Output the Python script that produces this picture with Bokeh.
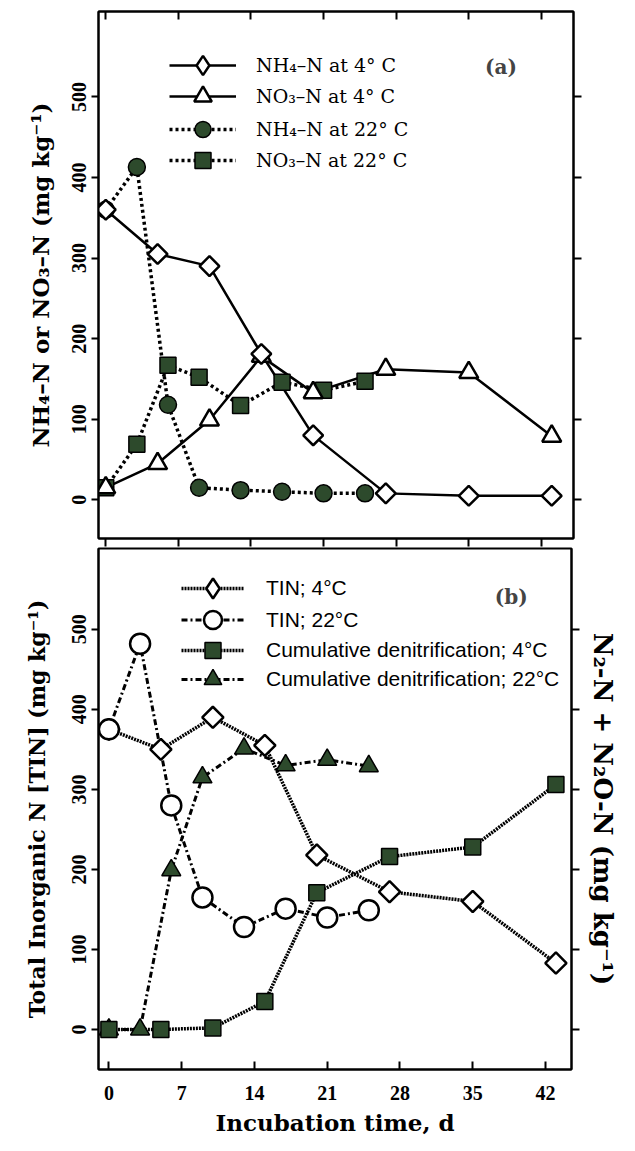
import math
from bokeh.plotting import figure
from bokeh.models import (LinearAxis, FixedTicker, Range1d, Legend, LegendItem,
                          Label, CustomJSTickFormatter)
from bokeh.layouts import column
from bokeh.embed import file_html
from bokeh.resources import INLINE

# ---------------- data ----------------
DAYS_4C = [0, 5, 10, 15, 20, 27, 35, 43]
DAYS_22C = [0, 3, 6, 9, 13, 17, 21, 25]

# panel (a)
NH4_4C = [360, 305, 290, 181, 80, 8, 5, 5]
NO3_4C = [15, 45, 99, 178, 133, 162, 158, 79]
NH4_22C = [360, 413, 118, 15, 12, 10, 8, 8]
NO3_22C = [15, 69, 167, 152, 117, 146, 136, 147]

# panel (b)
TIN_4C = [375, 350, 390, 355, 218, 172, 160, 83]
TIN_22C = [375, 482, 280, 165, 128, 151, 140, 149]
DEN_4C = [0, 0, 2, 35, 171, 216, 228, 306]
DEN_22C = [0, 0, 199, 315, 351, 330, 337, 329]

X_TICKS = [0, 7, 14, 21, 28, 35, 42]
Y_TICKS = [0, 100, 200, 300, 400, 500]

LABELS_A = ["NH\u2084\u2013N at 4\u00b0 C", "NO\u2083\u2013N at 4\u00b0 C",
            "NH\u2084\u2013N at 22\u00b0 C", "NO\u2083\u2013N at 22\u00b0 C"]
LABELS_B = ["TIN; 4\u00b0C", "TIN; 22\u00b0C",
            "Cumulative denitrification; 4\u00b0C",
            "Cumulative denitrification; 22\u00b0C"]

TICK_FONT = "Liberation Serif"
SERIF = "DejaVu Serif"
SANS = "Liberation Sans"
GREEN = "#2d4a2c"
BLANK = CustomJSTickFormatter(code="return ''")


def style_common(p):
    p.xgrid.visible = False
    p.ygrid.visible = False
    p.outline_line_color = "black"
    p.outline_line_width = 2
    p.background_fill_color = "white"
    p.border_fill_color = "white"


def style_axis(ax):
    ax.axis_line_color = "black"
    ax.axis_line_width = 2
    ax.major_tick_line_color = "black"
    ax.major_tick_line_width = 2
    ax.minor_tick_line_color = None
    ax.major_label_text_font = TICK_FONT
    ax.major_label_text_font_style = "bold"
    ax.major_label_text_color = "black"
    ax.axis_label_text_font = SERIF
    ax.axis_label_text_font_style = "bold"
    ax.axis_label_text_color = "black"


def blank_axis(ax):
    ax.formatter = BLANK
    ax.major_label_text_font_size = "1px"
    ax.major_label_standoff = 0


def add_legend(p, label, renderers, vx, vy, gw, gh, standoff, font, size):
    leg = Legend(items=[LegendItem(label=label, renderers=renderers)],
                 location=(vx, vy), glyph_width=gw, glyph_height=gh, label_height=gh,
                 spacing=0, padding=0, margin=0, label_standoff=standoff,
                 label_text_font=font, label_text_font_size=size,
                 label_text_color="black", border_line_alpha=0,
                 background_fill_alpha=0)
    p.add_layout(leg)


# ---------------- panel (a) ----------------
A_BOTTOM = 538  # frame bottom, page px (for legend placement)
pa = figure(frame_width=475, frame_height=527,
            x_range=Range1d(-0.7, 45.1), y_range=Range1d(-48, 606),
            output_backend="svg", toolbar_location=None,
            min_border_left=86, min_border_right=58,
            min_border_top=11, min_border_bottom=9)
style_common(pa)

ax = pa.xaxis[0]
style_axis(ax)
ax.ticker = FixedTicker(ticks=X_TICKS)
ax.major_tick_in = 0
ax.major_tick_out = 8
blank_axis(ax)

ay = pa.yaxis[0]
style_axis(ay)
ay.ticker = FixedTicker(ticks=Y_TICKS)
ay.major_tick_in = 0
ay.major_tick_out = 7
ay.major_label_orientation = "vertical"
ay.major_label_text_font_size = "20px"
ay.major_label_standoff = 5
ay.axis_label = "NH\u2084\u2013N or NO\u2083\u2013N (mg kg\u207b\u00b9)"
ay.axis_label_text_font_size = "23px"
ay.axis_label_standoff = 16

top_a = LinearAxis(ticker=FixedTicker(ticks=X_TICKS), major_tick_in=8, major_tick_out=0)
style_axis(top_a)
blank_axis(top_a)
pa.add_layout(top_a, "above")

right_a = LinearAxis(ticker=FixedTicker(ticks=Y_TICKS), major_tick_in=0, major_tick_out=8)
style_axis(right_a)
blank_axis(right_a)
pa.add_layout(right_a, "right")

solid = dict(line_color="black", line_width=2.5)
dotted = dict(line_color="black", line_width=3.5, line_dash="3 3")

l_no3_22 = pa.line(DAYS_22C, NO3_22C, **dotted)
l_nh4_22 = pa.line(DAYS_22C, NH4_22C, **dotted)
l_no3_4 = pa.line(DAYS_4C, NO3_4C, **solid)
l_nh4_4 = pa.line(DAYS_4C, NH4_4C, **solid)

s_no3_22 = pa.scatter(DAYS_22C, NO3_22C, marker="square", size=16,
                      fill_color=GREEN, line_color="black", line_width=1.5)
s_nh4_22 = pa.scatter(DAYS_22C, NH4_22C, marker="circle", size=17,
                      fill_color=GREEN, line_color="black", line_width=1.5)
s_no3_4 = pa.scatter(DAYS_4C, NO3_4C, marker="triangle", size=19,
                     fill_color="white", line_color="black", line_width=2.5)
# diamond swatch for the legend (legend swatches are drawn unrotated); it sits
# under the first rotated-square marker, which hides it in the plot
key_nh4_4 = pa.scatter(DAYS_4C[:1], NH4_4C[:1], marker="diamond", size=17,
                       fill_color="white", line_color="black", line_width=2.5)
s_nh4_4 = pa.scatter(DAYS_4C, NH4_4C, marker="square", angle=math.pi / 4, size=14,
                     fill_color="white", line_color="black", line_width=2.5)

A_ROWS = [65, 96, 129, 160]
A_GH = [48, 44, 40, 40]
A_REND = [[l_nh4_4, key_nh4_4], [l_no3_4, s_no3_4],
          [l_nh4_22, s_nh4_22], [l_no3_22, s_no3_22]]
for lab, rend, c, gh in zip(LABELS_A, A_REND, A_ROWS, A_GH):
    add_legend(pa, lab, rend, 71, A_BOTTOM - int(c + gh / 2), 67, gh, 20, SERIF, "19px")

pa.add_layout(Label(x=38.1, y=537, text="(a)", text_font=SERIF, text_font_style="bold",
                    text_font_size="20px", text_align="center", text_baseline="middle"))

# ---------------- panel (b) ----------------
B_BOTTOM = 1069
pb = figure(frame_width=473, frame_height=521,
            x_range=Range1d(-1.0, 44.5), y_range=Range1d(-50, 601),
            output_backend="svg", toolbar_location=None,
            min_border_left=98, min_border_right=47,
            min_border_top=1, min_border_bottom=70)
style_common(pb)

bx = pb.xaxis[0]
style_axis(bx)
bx.ticker = FixedTicker(ticks=X_TICKS)
bx.major_tick_in = 8
bx.major_tick_out = 0
bx.major_label_text_font_size = "20px"
bx.major_label_standoff = 16
bx.axis_label = "Incubation time, d"
bx.axis_label_text_font_size = "23px"
bx.axis_label_standoff = 6

by = pb.yaxis[0]
style_axis(by)
by.ticker = FixedTicker(ticks=Y_TICKS)
by.major_tick_in = 0
by.major_tick_out = 7
by.major_label_orientation = "vertical"
by.major_label_text_font_size = "20px"
by.major_label_standoff = 5
by.axis_label = "Total Inorganic N [TIN] (mg kg\u207b\u00b9)"
by.axis_label_text_font_size = "22px"
by.axis_label_standoff = 20

right_b = LinearAxis(ticker=FixedTicker(ticks=Y_TICKS), major_tick_in=0, major_tick_out=8)
style_axis(right_b)
blank_axis(right_b)
right_b.axis_label = "N\u2082-N + N\u2082O-N (mg kg\u207b\u00b9)"
right_b.axis_label_text_font_size = "26px"
right_b.axis_label_standoff = 8
pb.add_layout(right_b, "right")

fine_dot = dict(line_color="black", line_width=3.5, line_dash="2 1")
dash_dot = dict(line_color="black", line_width=3, line_dash="6 3 2 3")

lb_tin4 = pb.line(DAYS_4C, TIN_4C, **fine_dot)
lb_tin22 = pb.line(DAYS_22C, TIN_22C, **dash_dot)
lb_den22 = pb.line(DAYS_22C, DEN_22C, **dash_dot)
lb_den4 = pb.line(DAYS_4C, DEN_4C, **fine_dot)

key_tin4 = pb.scatter(DAYS_4C[:1], TIN_4C[:1], marker="diamond", size=18,
                      fill_color="white", line_color="black", line_width=2.5)
sb_tin4 = pb.scatter(DAYS_4C, TIN_4C, marker="square", angle=math.pi / 4, size=15,
                     fill_color="white", line_color="black", line_width=2.5)
sb_tin22 = pb.scatter(DAYS_22C, TIN_22C, marker="circle", size=20,
                      fill_color="white", line_color="black", line_width=2.5)
sb_den22 = pb.scatter(DAYS_22C, DEN_22C, marker="triangle", size=19,
                      fill_color=GREEN, line_color="black", line_width=1.5)
sb_den4 = pb.scatter(DAYS_4C, DEN_4C, marker="square", size=16,
                     fill_color=GREEN, line_color="black", line_width=1.5)

B_ROWS = [588, 620, 650, 679]
B_GH = [50, 45, 40, 44]
B_REND = [[lb_tin4, key_tin4], [lb_tin22, sb_tin22],
          [lb_den4, sb_den4], [lb_den22, sb_den22]]
for lab, rend, c, gh in zip(LABELS_B, B_REND, B_ROWS, B_GH):
    add_legend(pb, lab, rend, 83, B_BOTTOM - int(c + gh / 2), 63, gh, 22, SANS, "21px")

pb.add_layout(Label(x=38.7, y=540, text="(b)", text_font=SERIF, text_font_style="bold",
                    text_font_size="20px", text_align="center", text_baseline="middle"))

layout = column(pa, pb, spacing=0)
open("out.html", "w").write(file_html(layout, INLINE, title="Incubation"))
